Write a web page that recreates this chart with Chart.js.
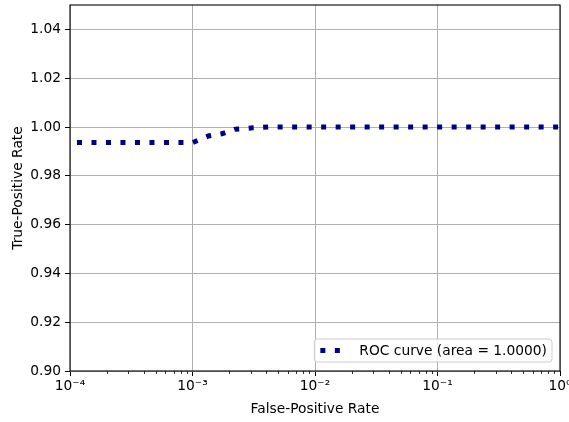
<!DOCTYPE html>
<html>
<head>
<meta charset="utf-8">
<script src="https://cdn.jsdelivr.net/npm/chart.js@4.4.0/dist/chart.umd.min.js"></script>
<style>
  html, body { margin: 0; padding: 0; background: #fff; }
  #wrap { width: 569px; height: 422px; }
</style>
</head>
<body>
<div id="wrap"><canvas id="rocChart"></canvas></div>
<script>
// ROC curve values
const fpr = [1.14e-4, 1.0e-3, 1.35e-3, 1.76e-3, 2.23e-3, 3.0e-3, 4.2e-3, 1.0];
const tpr = [0.9936, 0.9936, 0.9963, 0.9973, 0.9991, 0.9996, 1.0, 1.0];

const xTicks = [1e-4, 1e-3, 1e-2, 1e-1, 1];
const yTicks = [0.90, 0.92, 0.94, 0.96, 0.98, 1.00, 1.02, 1.04];
const legendLabel = "ROC curve (area = 1.0000)";

const FONT = "'DejaVu Sans', sans-serif";
const FSIZE = 13.8;
const sup = { "-": "\u207B", "0": "\u2070", "1": "\u00B9", "2": "\u00B2", "3": "\u00B3", "4": "\u2074" };
const powLabel = (v) => "10" + String(Math.round(Math.log10(v))).split("").map((c) => sup[c]).join("");

// frame, minor ticks and the in-plot legend (matplotlib style)
const framePlugin = {
  id: "frame",
  afterDraw(chart) {
    const { ctx, chartArea: a } = chart;
    const xs = chart.scales.x;
    ctx.save();
    // minor ticks
    ctx.strokeStyle = "#000";
    ctx.lineWidth = 0.8;
    for (let e = -4; e < 0; e++) {
      for (let m = 2; m <= 9; m++) {
        const px = Math.round(xs.getPixelForValue(m * Math.pow(10, e))) + 0.5;
        ctx.beginPath();
        ctx.moveTo(px, a.bottom);
        ctx.lineTo(px, a.bottom + 3);
        ctx.stroke();
      }
    }
    // spines
    ctx.lineWidth = 1.1;
    ctx.strokeRect(a.left, a.top, a.right - a.left, a.bottom - a.top);

    // legend
    ctx.font = FSIZE + "px " + FONT;
    const tw = ctx.measureText(legendLabel).width;
    const w = 6 + 26 + 13 + tw + 5;
    const h = 23;
    const bx = a.right - 8 - w;
    const by = a.bottom - 9 - h;
    ctx.beginPath();
    ctx.roundRect(bx, by, w, h, 3);
    ctx.fillStyle = "rgba(255,255,255,0.8)";
    ctx.fill();
    ctx.strokeStyle = "#cccccc";
    ctx.lineWidth = 1;
    ctx.stroke();
    const ly = by + h / 2;
    ctx.strokeStyle = "#000080";
    ctx.lineWidth = 5;
    ctx.setLineDash([5, 9.5]);
    ctx.beginPath();
    ctx.moveTo(bx + 6, ly);
    ctx.lineTo(bx + 32, ly);
    ctx.stroke();
    ctx.setLineDash([]);
    ctx.fillStyle = "#000";
    ctx.textBaseline = "middle";
    ctx.fillText(legendLabel, bx + 45, ly + 1);
    ctx.restore();
  },
};

new Chart(document.getElementById("rocChart").getContext("2d"), {
  type: "line",
  data: {
    datasets: [
      {
        label: legendLabel,
        data: fpr.map((x, i) => ({ x: x, y: tpr[i] })),
        borderColor: "#000080",
        borderWidth: 5,
        borderDash: [5, 9.5],
        pointRadius: 0,
        tension: 0,
        fill: false,
      },
    ],
  },
  options: {
    responsive: true,
    maintainAspectRatio: false,
    animation: false,
    layout: { padding: { top: 5, right: 9, left: 0, bottom: 0 } },
    plugins: {
      legend: { display: false },
      tooltip: { enabled: false },
    },
    scales: {
      x: {
        type: "logarithmic",
        min: 1e-4,
        max: 1,
        afterBuildTicks: (s) => { s.ticks = xTicks.map((v) => ({ value: v })); },
        afterFit: (s) => { s.height = 51; s.paddingRight = 0; s.paddingLeft = 0; },
        ticks: {
          color: "#000",
          font: { family: FONT, size: FSIZE },
          padding: 2,
          maxRotation: 0,
          autoSkip: false,
          callback: (v) => powLabel(v),
        },
        grid: { color: "#b0b0b0", lineWidth: 1, tickColor: "#000", tickLength: 5 },
        border: { display: false },
        title: {
          display: true,
          text: "False-Positive Rate",
          color: "#000",
          font: { family: FONT, size: FSIZE },
          padding: { top: 2, bottom: 4 },
        },
      },
      y: {
        min: 0.90,
        max: 1.05,
        afterBuildTicks: (s) => { s.ticks = yTicks.map((v) => ({ value: v })); },
        afterFit: (s) => { s.width = 70; s.paddingTop = 0; s.paddingBottom = 0; },
        ticks: {
          color: "#000",
          font: { family: FONT, size: FSIZE },
          padding: 4,
          callback: (v) => v.toFixed(2),
        },
        grid: { color: "#b0b0b0", lineWidth: 1, tickColor: "#000", tickLength: 5 },
        border: { display: false },
        title: {
          display: true,
          text: "True-Positive Rate",
          color: "#000",
          font: { family: FONT, size: FSIZE },
          padding: { top: 10, bottom: 4 },
        },
      },
    },
  },
  plugins: [framePlugin],
});
</script>
</body>
</html>
